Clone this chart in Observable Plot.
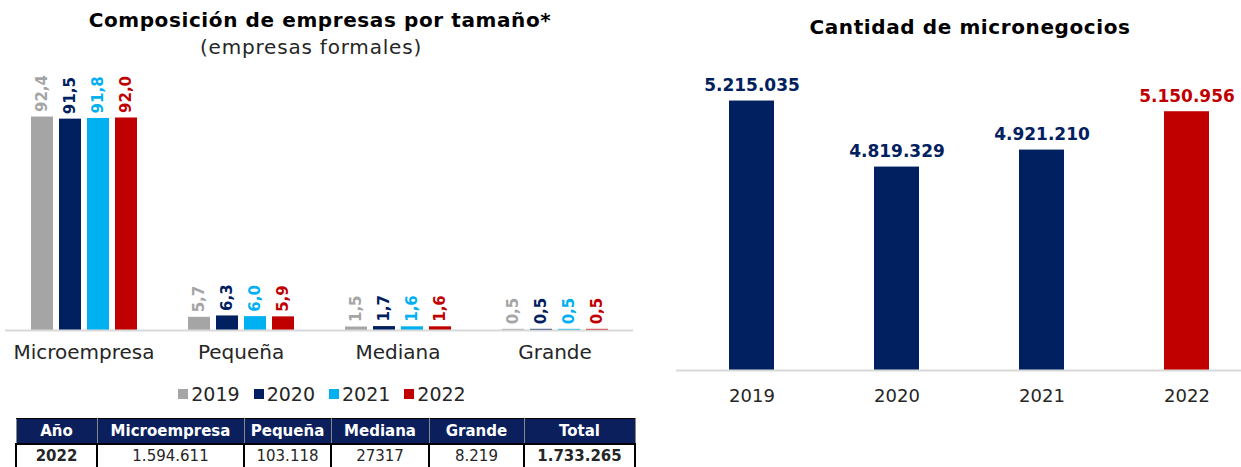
<!DOCTYPE html>
<html><head><meta charset="utf-8">
<script src="https://cdn.jsdelivr.net/npm/d3@7"></script>
<script src="https://cdn.jsdelivr.net/npm/@observablehq/plot@0.6"></script>
<style>
body{margin:0;width:1241px;height:467px;overflow:hidden;background:#fff;font-family:"DejaVu Sans",sans-serif;position:relative;color:#262626}
.abs{position:absolute}
.title{font-weight:bold;font-size:20px;letter-spacing:0.6px;text-align:center;color:#000;white-space:nowrap}
#legend{left:0;width:644px;top:383px;display:flex;justify-content:center;gap:14px;font-size:19px;color:#262626}
#legend .it{display:flex;align-items:center;gap:3px}
#legend .sw{width:10px;height:10px;display:inline-block}
table{border-collapse:collapse;table-layout:fixed;font-size:15px}
th{background:#0b1f5c;color:#fff;font-weight:bold;height:24px;padding:0;border:1.5px solid #000;border-left-color:#888;border-right-color:#888}
td{height:22px;padding:0;text-align:center;border:2px solid #000}
svg{max-width:none !important}
</style></head><body>
<div class="abs title" style="left:0;width:640px;top:8px">Composición de empresas por tamaño*</div>
<div class="abs" style="left:0;width:622px;top:35px;text-align:center;font-size:20px;letter-spacing:0.8px;color:#262626">(empresas formales)</div>
<div class="abs title" style="left:650px;width:640px;top:15px">Cantidad de micronegocios</div>
<div id="left" class="abs" style="left:0;top:60px;width:640px"></div>
<div id="right" class="abs" style="left:650px;top:45px;width:612px"></div>
<div id="legend" class="abs"></div>
<div id="tbl" class="abs" style="left:15px;top:418px"></div>
<script>
// ---- data ----
const categories = ["Microempresa", "Pequeña", "Mediana", "Grande"];
const years = ["2019", "2020", "2021", "2022"];
const yearColors = ["#a5a5a5", "#002060", "#00b0f0", "#c00000"];
const share2019 = [92.4, 5.7, 1.5, 0.5];
const share2020 = [91.5, 6.3, 1.7, 0.5];
const share2021 = [91.8, 6.0, 1.6, 0.5];
const share2022 = [92.0, 5.9, 1.6, 0.5];
const microYears = ["2019", "2020", "2021", "2022"];
const microCounts = [5215035, 4819329, 4921210, 5150956];
const microColors = ["#002060", "#002060", "#002060", "#c00000"];
const microAxisMin = 3600000;
const tableHeader = ["Año", "Microempresa", "Pequeña", "Mediana", "Grande", "Total"];
const tableRow = ["2022", "1.594.611", "103.118", "27317", "8.219", "1.733.265"];
const tableColWidths = [81, 147, 87, 98, 95, 111];

const font = "DejaVu Sans";
const shares = [share2019, share2020, share2021, share2022];
const rows = [];
categories.forEach((c, i) => years.forEach((y, j) => rows.push({cat: c, year: y, value: shares[j][i]})));
const fmt1 = v => v.toFixed(1).replace(".", ",");

const left = Plot.plot({
  width: 640, height: 310,
  marginLeft: 4, marginRight: 6, marginTop: 39, marginBottom: 40,
  style: {fontFamily: font, fontSize: "20px", color: "#262626", background: "transparent", overflow: "visible", maxWidth: "none"},
  fx: {domain: categories, padding: 0, label: null, axis: "bottom", tickSize: 0, tickPadding: 14},
  x: {domain: years, paddingInner: 0.22, paddingOuter: 0.84, axis: null},
  y: {domain: [0, 100], axis: null},
  color: {domain: years, range: yearColors},
  marks: [
    Plot.barY(rows, {fx: "cat", x: "year", y: "value", fill: "year"}),
    Plot.ruleY([0], {stroke: "#d9d9d9", strokeWidth: 2}),
    Plot.text(rows, {fx: "cat", x: "year", y: "value", text: d => fmt1(d.value), fill: "year",
      rotate: -90, textAnchor: "start", lineAnchor: "middle", dy: -5, fontWeight: "bold", fontSize: 15})
  ]
});
document.getElementById("left").appendChild(left);

const micro = microYears.map((y, i) => ({year: y, value: microCounts[i], color: microColors[i]}));
const fmtDots = v => d3.format(",")(v).replace(/,/g, ".");
const right = Plot.plot({
  width: 612, height: 422,
  marginLeft: 26, marginRight: 0, marginTop: 8, marginBottom: 97,
  style: {fontFamily: font, fontSize: "18px", color: "#262626", background: "transparent", overflow: "visible", maxWidth: "none"},
  x: {domain: microYears, paddingInner: 0.69, paddingOuter: 0.36, label: null, tickSize: 0, tickPadding: 19},
  y: {domain: [microAxisMin, 5500000], axis: null},
  marks: [
    Plot.barY(micro, {x: "year", y1: () => microAxisMin, y2: "value", fill: d => d.color}),
    Plot.ruleY([microAxisMin], {stroke: "#d9d9d9", strokeWidth: 2}),
    Plot.text(micro, {x: "year", y: "value", text: d => fmtDots(d.value), fill: d => d.color,
      dy: -10, lineAnchor: "bottom", fontWeight: "bold", fontSize: 17})
  ]
});
document.getElementById("right").appendChild(right);

// legend
const lg = document.getElementById("legend");
years.forEach((y, i) => {
  const it = document.createElement("span"); it.className = "it";
  const sw = document.createElement("span"); sw.className = "sw"; sw.style.background = yearColors[i];
  it.appendChild(sw); it.appendChild(document.createTextNode(y)); lg.appendChild(it);
});

// table
const t = document.createElement("table");
const cg = document.createElement("colgroup");
tableColWidths.forEach(w => { const c = document.createElement("col"); c.style.width = w + "px"; cg.appendChild(c); });
t.appendChild(cg);
const tr1 = document.createElement("tr");
tableHeader.forEach(h => { const th = document.createElement("th"); th.textContent = h; tr1.appendChild(th); });
const tr2 = document.createElement("tr");
tableRow.forEach((v, i) => { const td = document.createElement("td"); td.textContent = v;
  if (i === 0 || i === tableRow.length - 1) td.style.fontWeight = "bold"; tr2.appendChild(td); });
t.appendChild(tr1); t.appendChild(tr2);
document.getElementById("tbl").appendChild(t);
</script>
</body></html>
